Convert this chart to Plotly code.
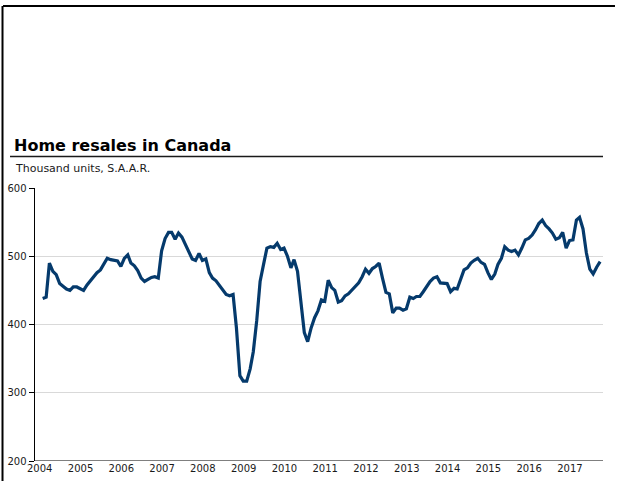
import plotly.graph_objects as go
import pandas as pd

start_month = "2004-01-01"
resales = [
    # 2004
    438, 440, 490, 478, 473, 460, 456, 452, 450, 455, 455, 452,
    # 2005
    450, 458, 464, 471, 476, 480, 488, 497, 495, 494, 493, 485,
    # 2006
    497, 502, 490, 486, 479, 468, 463, 466, 469, 470, 468, 508,
    # 2007
    526, 535, 535, 525, 534, 528, 518, 508, 496, 494, 504, 494,
    # 2008
    496, 476, 468, 464, 458, 450, 444, 442, 444, 395, 325, 317,
    # 2009
    317, 335, 360, 406, 463, 488, 512, 514, 513, 519, 510, 512,
    # 2010
    500, 483, 495, 478, 430, 388, 375, 395, 410, 420, 436, 434,
    # 2011
    465, 454, 450, 433, 435, 442, 445, 450, 456, 461, 470, 481,
    # 2012
    475, 482, 485, 490, 468, 447, 445, 417, 424, 424, 421, 423,
    # 2013
    440, 438, 441, 441, 448, 456, 463, 468, 470, 461, 460, 460,
    # 2014
    448, 453, 452, 465, 480, 483, 490, 494, 497, 491, 488, 476,
    # 2015
    466, 474, 488, 497, 514, 509, 507, 509, 502, 512, 524, 526,
    # 2016
    531, 539, 548, 553, 545, 540, 534, 525, 527, 535, 512, 523,
    # 2017
    524, 553, 557, 540, 505, 481, 474, 484, 492,
]
months = pd.date_range(start_month, periods=len(resales), freq="MS")
year_ticks = [f"{y}-01-01" for y in range(2004, 2018)]
year_labels = [str(y) for y in range(2004, 2018)]
y_ticks = [200, 300, 400, 500, 600]

title_text = "<b>Home resales in Canada</b>"
subtitle_text = "Thousand units, S.A.A.R."

FONT = "DejaVu Sans"

fig = go.Figure()
fig.add_trace(go.Scatter(
    x=months, y=resales, mode="lines",
    line=dict(color="#053a6c", width=3.2),
    hoverinfo="skip", showlegend=False,
))

fig.update_layout(
    width=619, height=481,
    margin=dict(l=35, r=16, t=188, b=20, autoexpand=False),
    paper_bgcolor="white", plot_bgcolor="white",
    font=dict(family=FONT, size=10, color="#1a1a1a"),
    xaxis=dict(
        type="date",
        range=["2003-10-24", "2017-09-27"],
        tickvals=year_ticks, ticktext=year_labels,
        showgrid=False, zeroline=False,
        showline=False, ticks="",
        ticklabelshift=-3,
        tickfont=dict(family=FONT, size=10, color="#1a1a1a"),
    ),
    yaxis=dict(
        range=[200, 600], tickvals=y_ticks,
        showgrid=True, gridcolor="#d9d9d9", gridwidth=1,
        zeroline=False,
        showline=True, linecolor="black", linewidth=1.5,
        ticks="outside", ticklen=5, tickcolor="black", tickwidth=1,
        tickfont=dict(family=FONT, size=10, color="#1a1a1a"),
    ),
    shapes=[
        # x axis baseline at 200
        dict(type="line", xref="paper", yref="y", x0=0, x1=1, y0=200, y1=200,
             line=dict(color="black", width=1.2)),
        # title underline
        dict(type="line", xref="paper", yref="paper", x0=-0.044, x1=1.0,
             y0=1.1154, y1=1.1154, line=dict(color="#1a1a1a", width=1.6)),
        # outer frame: top and left edges
        dict(type="line", xref="paper", yref="paper", x0=-0.0563, x1=1.0211,
             y0=1.6667, y1=1.6667, line=dict(color="black", width=2)),
        dict(type="line", xref="paper", yref="paper", x0=-0.0572, x1=-0.0572,
             y0=1.6667, y1=-0.08, line=dict(color="black", width=2)),
    ],
    annotations=[
        dict(text=title_text, xref="paper", yref="paper", x=-0.0405, y=1.112,
             xanchor="left", yanchor="bottom", showarrow=False,
             font=dict(family=FONT, size=16, color="black")),
        dict(text=subtitle_text, xref="paper", yref="paper", x=-0.0395, y=1.073,
             xanchor="left", yanchor="middle", showarrow=False,
             font=dict(family=FONT, size=11, color="#1a1a1a")),
    ],
)

fig.write_html(
    "out.html",
    config={"displayModeBar": False, "staticPlot": True},
    post_script="document.body.style.margin='0';document.body.style.overflow='hidden';",
)
